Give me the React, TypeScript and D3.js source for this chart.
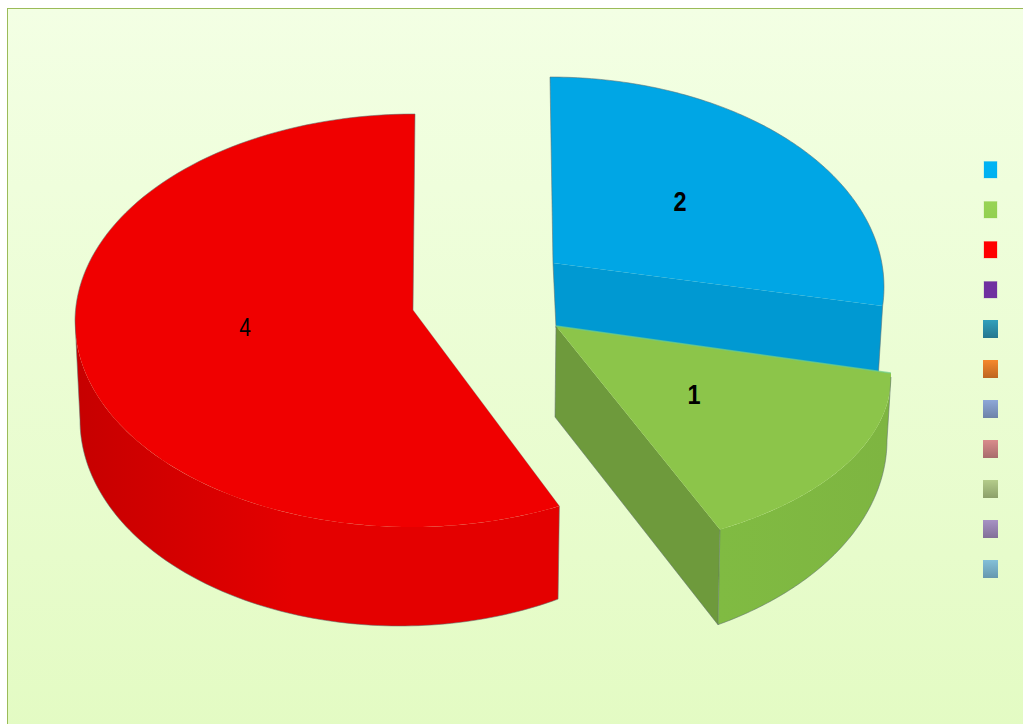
import React from "react";
import * as d3 from "d3";

const categories = ["2", "1", "4"];
const values = [2, 1, 4];
const labelWeights = ["bold", "bold", "normal"];
const labelSizes = [28, 28, 25];
const topColors = ["#00a6e5", "#8cc54a", "#f00000"];
const wallStops = [
  ["#0096cf", "#0099d3"],
  ["#80bb42", "#7eb541"],
  ["#c60000", "#e40000"],
];
const innerWallColors = ["#0099d2", "#6e9a3c", "#e00000"];
const legendTop = ["#00b4f4", "#98d455", "#ff0000", "#7030a0", "#31a0bc", "#f6882c", "#8ea8d8", "#d98c8c", "#b4cc8a", "#a792c4", "#84c0d8"];
const legendBottom = ["#00b0f0", "#92d050", "#ff0000", "#7030a0", "#25778f", "#bd6620", "#6d83a8", "#a86c6c", "#8ca06a", "#826f98", "#6698ae"];

const W = 1023;
const H = 724;
const deg = Math.PI / 180;

// Projected rim of a slice: an ellipse (cx, cy, rx, ry), sheared by s, traversed from t0 to t1 degrees.
type Ring = { cx: number; cy: number; rx: number; ry: number; s: number; t0: number; t1: number; ax: number; ay: number };
const sliceGeometry: { top: Ring; bottom: Ring }[] = [
  {
    top: { cx: 550, cy: 287, rx: 334, ry: 210, s: 0, t0: 0, t1: 95.2, ax: 553, ay: 263 },
    bottom: { cx: 547, cy: 352, rx: 333, ry: 210, s: 0, t0: 0, t1: 95.5, ax: 556, ay: 328 },
  },
  {
    top: { cx: 555, cy: 377, rx: 336, ry: 175, s: 0, t0: 88.7, t1: 150.6, ax: 556, ay: 326 },
    bottom: { cx: 555, cy: 440, rx: 332, ry: 212, s: 0, t0: 90, t1: 150.6, ax: 555, ay: 417 },
  },
  {
    top: { cx: 413, cy: 320.5, rx: 338, ry: 206.5, s: -2, t0: 154, t1: 360, ax: 413, ay: 310 },
    bottom: { cx: 400, cy: 420, rx: 320, ry: 206, s: 0, t0: 150.4, t1: 360, ax: 415, ay: 402 },
  },
];
const labelPos = [[680, 201], [694, 394], [245, 327]];

const arcs = d3.pie<number>().sort(null).startAngle(0).endAngle(2 * Math.PI)(values);
const line = d3.line();

const rimPoint = (r: Ring, tDeg: number): [number, number] => {
  const a = tDeg * deg;
  return [r.cx + r.rx * Math.sin(a) - r.s * Math.cos(a), r.cy - r.ry * Math.cos(a)];
};
// pie angle -> position on the projected rim
const rim = (i: number, r: Ring, n = 120): [number, number][] => {
  const toRim = d3.scaleLinear().domain([arcs[i].startAngle, arcs[i].endAngle]).range([r.t0, r.t1]);
  return d3.range(n + 1).map((k) => rimPoint(r, toRim(arcs[i].startAngle + ((arcs[i].endAngle - arcs[i].startAngle) * k) / n)));
};
const rimSpan = (r: Ring, a: number, b: number, n = 100): [number, number][] =>
  d3.range(n + 1).map((k) => rimPoint(r, a + ((b - a) * k) / n));
// only the part of the rim facing the viewer, t between 90 and 270
const frontRim = (r: Ring) => rimSpan(r, Math.max(r.t0, 90), Math.min(r.t1, 270));

export default function App() {
  const build = (i: number) => {
    const { top, bottom } = sliceGeometry[i];
    const topRim = rim(i, top);
    const front = frontRim(top);
    const frontB = frontRim(bottom);
    return {
      top: line([[top.ax, top.ay], ...topRim])! + "Z",
      topRim: line(topRim)!,
      wall: line([...front, ...[...frontB].reverse()])! + "Z",
      wallEdge: line([front[0], ...frontB, front[front.length - 1]])!,
      cutEnd: line([[top.ax, top.ay], topRim[topRim.length - 1], frontB[frontB.length - 1], [bottom.ax, bottom.ay]])! + "Z",
      cutEndEdge: line([[bottom.ax, bottom.ay], frontB[frontB.length - 1]])!,
      startEdge: line([topRim[0], [top.ax, top.ay]])!,
      startEnd: topRim[0],
    };
  };
  const [blue, green, red] = [build(0), build(1), build(2)];
  const blueTop = sliceGeometry[0].top;
  const blueBottom = sliceGeometry[0].bottom;
  const greenTop = sliceGeometry[1].top;
  const greenBottom = sliceGeometry[1].bottom;
  const redTop = sliceGeometry[2].top;
  const edge = { fill: "none", stroke: "#5f6f6f", strokeWidth: 1, strokeOpacity: 0.55, strokeLinejoin: "round" as const };

  return (
    <svg width={W} height={H} viewBox={`0 0 ${W} ${H}`} style={{ position: "absolute", left: 0, top: 0, display: "block" }}>
      <defs>
        <linearGradient id="bg" x1="0" y1="0" x2="0" y2="1">
          <stop offset="0" stopColor="#f3ffe4" />
          <stop offset="1" stopColor="#e3fbc3" />
        </linearGradient>
        {wallStops.map((c, i) => (
          <linearGradient key={i} id={`wall${i}`} x1="0" y1="0" x2="1" y2="0">
            <stop offset="0" stopColor={c[0]} />
            <stop offset={i === 2 ? 0.45 : 1} stopColor={c[1]} />
          </linearGradient>
        ))}
        {legendTop.map((c, i) => (
          <linearGradient key={i} id={`leg${i}`} x1="0" y1="0" x2="0" y2="1">
            <stop offset="0" stopColor={c} />
            <stop offset="1" stopColor={legendBottom[i]} />
          </linearGradient>
        ))}
      </defs>
      <rect x={0} y={0} width={W} height={H} fill="#fff" />
      <rect x={7.5} y={8.5} width={W} height={H} fill="url(#bg)" stroke="#9bbb59" strokeWidth={1} />

      {/* blue slice: wall behind the green slice, then top face */}
      <path d={blue.cutEnd} fill={innerWallColors[0]} />
      <path d={blue.top} fill={topColors[0]} />
      <path d={blue.topRim} {...edge} />
      <path d={line([blue.startEnd, [blueTop.ax, blueTop.ay], [blueBottom.ax, blueBottom.ay]])!} {...edge} />
      <path d={line([rim(0, blueTop, 1)[1], rim(0, blueBottom, 1)[1]])!} {...edge} />

      {/* green slice */}
      <path d={green.cutEnd} fill={innerWallColors[1]} />
      <path d={green.wall} fill="url(#wall1)" />
      <path d={green.top} fill={topColors[1]} />
      <path d={green.wallEdge} {...edge} />
      <path d={green.cutEndEdge} {...edge} />
      <path d={line([[greenTop.ax, greenTop.ay], [greenBottom.ax, greenBottom.ay]])!} {...edge} />
      <path d={green.startEdge} fill="none" stroke="#6fcf8a" strokeWidth={1.5} strokeOpacity={0.7} />

      {/* red slice */}
      <path d={red.wall} fill="url(#wall2)" />
      <path d={red.top} fill={topColors[2]} />
      <path d={red.wallEdge} {...edge} />
      <path d={line([[redTop.ax, redTop.ay], ...rimSpan(redTop, 360, 270)])!} {...edge} />
      <path d={line([[redTop.ax, redTop.ay], rimPoint(redTop, redTop.t0)])!} {...edge} strokeOpacity={0.3} />

      {categories.map((c, i) => (
        <text
          key={c}
          transform={`translate(${labelPos[i][0]},${labelPos[i][1]}) scale(0.84,1)`}
          textAnchor="middle"
          dominantBaseline="central"
          fontFamily="'Liberation Sans', sans-serif"
          fontSize={labelSizes[i]}
          fontWeight={labelWeights[i]}
          fill="#000"
        >
          {c}
        </text>
      ))}

      {legendTop.map((_, i) => (
        <rect
          key={i}
          x={i < 4 ? 984 : 983}
          y={i < 4 ? 161.5 : 160 + i * 40}
          transform={i < 4 ? `translate(0,${i * 40})` : undefined}
          width={i < 4 ? 13 : 15}
          height={i < 4 ? 16.5 : 18}
          fill={`url(#leg${i})`}
          stroke={i < 4 ? legendBottom[i] : "none"}
          strokeOpacity={0.25}
          strokeWidth={1}
        />
      ))}
    </svg>
  );
}
